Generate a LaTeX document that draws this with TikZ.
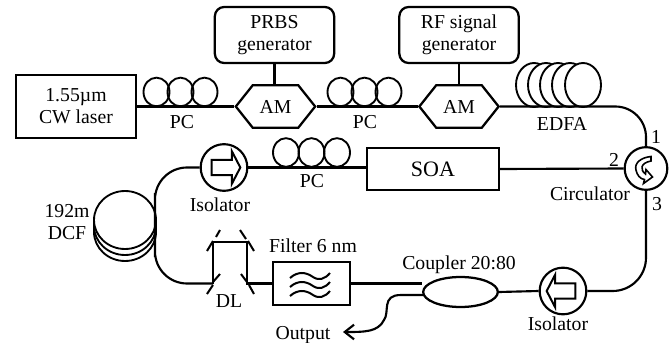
\documentclass[tikz,border=0pt]{standalone}
\usepackage{fontspec}
\setmainfont{Liberation Serif}
\usetikzlibrary{shapes, shapes.geometric, shapes.arrows, shapes.symbols, arrows.meta}
\tikzset{
    boxBase/.style={
        rectangle,
        draw,
        line width=1.7pt,
        align=center,
        inner sep=0pt
    },
    labelBase/.style={
        font=\fontsize{14.8}{16.5}\selectfont,
        align=center,
        inner sep=0pt
    },
    % Boxes
    sourcebox/.style={boxBase, labelBase, minimum width=90pt, minimum height=47pt},
    genbox/.style={boxBase, labelBase, rounded corners=7pt, minimum width=89.5pt, minimum height=42pt},
    modulator/.style={
        signal,
        signal to=west and east,
        signal pointer angle=103,
        draw,
        line width=1.7pt,
        labelBase,
        minimum width=59.5pt,
        minimum height=32pt
    },
    % Fibre parts
    coil/.style={ellipse, draw, line width=1.4pt, minimum width=19.5pt, minimum height=21.5pt, inner sep=0pt},
    spool/.style={ellipse, draw, line width=1.4pt, fill=white, inner sep=0pt},
    port/.style={circle, draw, line width=1.6pt, fill=white, inner sep=0pt},
    isoarrow/.style={
        single arrow,
        draw,
        line width=1.5pt,
        inner sep=0pt,
        minimum height=21.5pt,
        single arrow head extend=6.5pt,
        single arrow tip angle=125
    },
    fibre/.style={draw, line width=1.6pt},
    mirror/.style={draw, line width=1.5pt},
    wave/.style={draw, line width=1.5pt}
}

\begin{document}
\begin{tikzpicture}[x=0.75pt, y=-0.75pt]
    \useasboundingbox (0,0) rectangle (672,343);
    % Top row
    \node[sourcebox] (laser) at (76,106.5) {1.55µm\\CW laser};
    \node[modulator] (amA) at (275.5,106.5) {AM};
    \node[modulator] (amB) at (459,106.5) {AM};
    \node[genbox] (prbs) at (274.5,35) {PRBS\\generator};
    \node[genbox] (rfgen) at (459,35) {RF signal\\generator};
    \node[coil] (pcAa) at (156.5,92) {};
    \node[coil] (pcAb) at (180.5,92) {};
    \node[coil] (pcAc) at (204.5,92) {};
    \node[coil] (pcBa) at (340.5,92) {};
    \node[coil] (pcBb) at (364.5,92) {};
    \node[coil] (pcBc) at (388.5,92) {};
    \node[spool, minimum width=27pt, minimum height=33pt] (edfaA) at (534,85) {};
    \node[spool, minimum width=27pt, minimum height=33pt] (edfaB) at (546,85) {};
    \node[spool, minimum width=27pt, minimum height=33pt] (edfaC) at (558,85) {};
    \node[spool, minimum width=27pt, minimum height=33pt] (edfaD) at (570,85) {};
    \node[spool, minimum width=27pt, minimum height=33pt] (edfaE) at (583,85) {};
    % Middle row
    \node[port, minimum size=32pt] (circ) at (646,168.5) {};
    \node[boxBase, labelBase, font=\fontsize{16.5}{19}\selectfont, minimum width=99pt, minimum height=31.5pt] (soa) at (433,169) {SOA};
    \node[port, minimum size=35pt] (isoA) at (224,167.5) {};
    \node[isoarrow] (isoAarrow) at (isoA.center) {\rule{0pt}{10pt}};
    \node[coil] (pcCa) at (286,152.5) {};
    \node[coil] (pcCb) at (311.5,152.5) {};
    \node[coil] (pcCc) at (337,152.5) {};
    % Lower row
    \node[spool, minimum width=46.5pt, minimum height=43.5pt] (dcfC) at (125,232) {};
    \node[spool, minimum width=46.5pt, minimum height=43.5pt] (dcfB) at (125,226) {};
    \node[spool, minimum width=46.5pt, minimum height=43.5pt] (dcfA) at (125,220) {};
    \node[boxBase, minimum width=58pt, minimum height=32pt] (filter) at (311.5,283.5) {};
    \node[ellipse, draw, line width=1.7pt, minimum width=56pt, minimum height=22.5pt, inner sep=0pt] (coupler) at (460.5,292) {};
    \node[port, minimum size=35pt] (isoB) at (563,291) {};
    \node[isoarrow, shape border rotate=180] (isoBarrow) at (isoB.center) {\rule{0pt}{10pt}};
    \coordinate (dcfR) at (155,225);
    \coordinate (dlA) at (213,283.5);
    \coordinate (dlB) at (213,242);
    \coordinate (dlC) at (247,242);
    \coordinate (dlD) at (247,283.5);
    \coordinate (outTop) at (423,295);
    \coordinate (outEnd) at (343,332);
    % Fibre
    \draw[fibre] (laser.east) -- (amA.west);
    \draw[fibre] (amA.east) -- (amB.west);
    \draw[fibre, rounded corners=23pt] (amB.east) -| (circ.north);
    \draw[fibre] (circ.west) -- (soa.east);
    \draw[fibre] (soa.west |- isoA.east) -- (isoA.east);
    \draw[fibre, rounded corners=24pt] (isoA.west) -| (dcfR) |- (dlA);
    \draw[fibre] (dlA) -- (dlB) -- (dlC) -- (dlD) -- (filter.west);
    \draw[fibre] (filter.east) -- (filter.east -| coupler.west);
    \draw[fibre] (coupler.east) -- (isoB.west);
    \draw[fibre, rounded corners=25pt] (circ.south) |- (isoB.east);
    \draw[fibre, -{Straight Barb[length=7pt, width=11pt, line width=1.6pt]}] (outTop) -- (401,295) .. controls (381,295) and (390,312) .. (384,320) .. controls (378,332) and (365,332) .. (outEnd);
    \draw[line width=1.7pt] (prbs.south) -- (amA.north -| prbs.south);
    \draw[line width=1.7pt] (rfgen.south) -- (amB.north);
    % Delay line mirrors
    \draw[mirror] (207,251) -- (213,241);
    \draw[mirror] (216,237) -- (220,230);
    \draw[mirror] (240,230) -- (246,239);
    \draw[mirror] (248,241) -- (254,251);
    \draw[mirror] (213,282) -- (220,274);
    \draw[mirror] (207,294) -- (213,285);
    \draw[mirror] (241,274) -- (247,282);
    \draw[mirror] (249,285) -- (254,294);
    % Filter waves
    \draw[wave] (290,278) .. controls (298,271) and (306,272) .. (313,277) .. controls (319,281) and (325,279) .. (330,273);
    \draw[wave] (290,287) .. controls (298,280) and (306,281) .. (313,286) .. controls (319,290) and (325,288) .. (330,282);
    \draw[wave] (290,296) .. controls (298,289) and (306,290) .. (313,295) .. controls (319,299) and (325,297) .. (330,291);
    % Circulator arrow
    \draw[line width=1.2pt, fill=white] (651,156.5) .. controls (641,157.5) and (634,163) .. (636,170) .. controls (637,175) and (640,179) .. (644.5,179.5) -- (643.5,183.5) -- (652.5,177) -- (646,169.5) -- (645.5,174) .. controls (640,170) and (640,163) .. (651,161) -- cycle;
    % Labels
    \node[labelBase] (pcAlabel) at (182,122) {PC};
    \node[labelBase] (pcBlabel) at (365,122) {PC};
    \node[labelBase] (pcClabel) at (312,181) {PC};
    \node[labelBase] (edfalabel) at (562,124) {EDFA};
    \node[labelBase] (portA) at (656,137) {1};
    \node[labelBase] (portB) at (614,160) {2};
    \node[labelBase] (portC) at (657,204) {3};
    \node[labelBase] (circlabel) at (590,194) {Circulator};
    \node[labelBase] (isoAlabel) at (220,205) {Isolator};
    \node[labelBase] (isoBlabel) at (558,324) {Isolator};
    \node[labelBase] (dcflabel) at (67,222) {192m\\DCF};
    \node[labelBase] (dllabel) at (229,301) {DL};
    \node[labelBase] (filterlabel) at (313,246) {Filter 6 nm};
    \node[labelBase] (couplerlabel) at (459,265) {Coupler 20:80};
    \node[labelBase] (outputlabel) at (303,335) {Output};
\end{tikzpicture}
\end{document}
